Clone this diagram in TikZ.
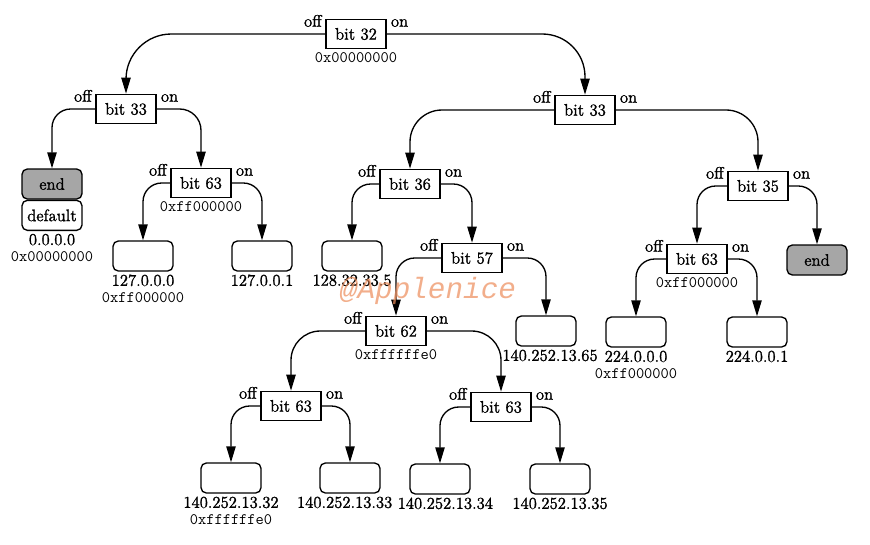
\documentclass[tikz,border=0pt]{standalone}
\usepackage{fontspec}
\setmainfont{Latin Modern Roman}[FakeBold=1.4]
\newfontfamily\wmfont{Liberation Mono}
\usetikzlibrary{arrows.meta}
\begin{document}
\begin{tikzpicture}[x=0.75pt,y=-0.75pt,
    bitbox/.style={draw, line width=1pt, minimum width=45pt, minimum height=22pt,
        inner sep=0pt, font=\fontsize{12.5}{14}\selectfont,
        label={[anchor=base east, inner sep=0pt, xshift=-2.5pt, yshift=-6pt,
            font=\fontsize{12.5}{14}\selectfont]north west:off},
        label={[anchor=base west, inner sep=0pt, xshift=3pt, yshift=-6pt,
            font=\fontsize{12.5}{14}\selectfont]north east:on}},
    leaf/.style={draw, line width=1pt, rounded corners=4pt, minimum width=45pt,
        minimum height=22.5pt, inner sep=0pt, font=\fontsize{12.5}{14}\selectfont},
    endleaf/.style={leaf, fill=black!35},
    addr/.style={anchor=north, inner sep=1pt, yshift=-1pt, font=\fontsize{12.5}{14}\selectfont},
    mask/.style={anchor=north, inner sep=1pt, font=\ttfamily\fontsize{12}{14}\selectfont},
    edge/.style={-{Triangle[length=12pt,width=7pt]}, line width=1pt, rounded corners=14pt}]
    \useasboundingbox (0,0) rectangle (870,544);
    % Wurzel
    \node[bitbox] (b32) at (356,34) {bit 32};
    \node[mask, yshift=-1.5pt] (m32) at (b32.south) {0x00000000};
    % linker Teilbaum
    \node[bitbox] (b33l) at (126,109) {bit 33};
    \node[endleaf] (endl) at (52,184) {end};
    \node[leaf, anchor=north] (defl) at (endl.south) {default};
    \node[addr] (a0) at (defl.south) {0.0.0.0};
    \node[mask] (m0) at ([yshift=-2.5pt]a0.south) {0x00000000};
    \node[bitbox] (b63a) at (201,183) {bit 63};
    \node[mask, yshift=-1.5pt] (m63a) at (b63a.south) {0xff000000};
    \node[leaf] (l1270) at (143,256) {};
    \node[addr] (a1270) at (l1270.south) {127.0.0.0};
    \node[mask] (m1270) at ([yshift=-2pt]a1270.south) {0xff000000};
    \node[leaf] (l1271) at (262,256) {};
    \node[addr] (a1271) at (l1271.south) {127.0.0.1};
    % rechter Teilbaum
    \node[bitbox] (b33r) at (585,110) {bit 33};
    \node[bitbox] (b36) at (410,184) {bit 36};
    \node[leaf] (l128) at (352,256) {};
    \node[addr] (a128) at (l128.south) {128.32.33.5};
    \node[bitbox] (b57) at (472,258) {bit 57};
    \node[leaf] (l65) at (546,331) {};
    \node[addr, xshift=3pt] (a65) at (l65.south) {140.252.13.65};
    \node[bitbox] (b62) at (396,331) {bit 62};
    \node[mask, yshift=-1.5pt] (m62) at (b62.south) {0xffffffe0};
        % untere Ebene
    \node[bitbox] (b63b) at (291,406) {bit 63};
    \node[bitbox] (b63c) at (501,407) {bit 63};
    \node[leaf] (l32) at (231,478) {};
    \node[addr] (a32) at (l32.south) {140.252.13.32};
    \node[mask] (m32b) at ([yshift=-2.5pt]a32.south) {0xffffffe0};
    \node[leaf] (l33) at (350,478) {};
    \node[addr, xshift=-4pt] (a33) at (l33.south) {140.252.13.33};
    \node[leaf] (l34) at (440,479) {};
    \node[addr, xshift=4pt] (a34) at (l34.south) {140.252.13.34};
    \node[leaf] (l35) at (560,479) {};
    \node[addr] (a35) at (l35.south) {140.252.13.35};
        % bit 35
    \node[bitbox] (b35) at (758,186) {bit 35};
    \node[endleaf] (endr) at (817,260) {end};
    \node[bitbox] (b63d) at (697,259) {bit 63};
    \node[mask, yshift=-1.5pt] (m63d) at (b63d.south) {0xff000000};
    \node[leaf] (l2240) at (636,332) {};
    \node[addr] (a2240) at (l2240.south) {224.0.0.0};
    \node[mask] (m2240) at ([yshift=-2.5pt]a2240.south) {0xff000000};
    \node[leaf] (l2241) at (757,332) {};
    \node[addr] (a2241) at (l2241.south) {224.0.0.1};
    % Verbindungen
    \draw[edge, rounded corners=34pt] (b32.west) -| (b33l.north);
    \draw[edge, rounded corners=32pt] (b32.east) -| (b33r.north);
    \draw[edge] (b33l.west) -| (endl.north);
    \draw[edge, rounded corners=16pt] (b33l.east) -| (b63a.north);
    \draw[edge] (b63a.west) -| (l1270.north);
    \draw[edge] (b63a.east) -| (l1271.north);
    \draw[edge, rounded corners=24pt] (b33r.west) -| (b36.north);
    \draw[edge, rounded corners=24pt] (b33r.east) -| (b35.north);
    \draw[edge] (b36.west) -| (l128.north);
    \draw[edge] (b36.east) -| (b57.north);
    \draw[edge] (b57.west) -| (b62.north);
    \draw[edge] (b57.east) -| (l65.north);
    \draw[edge, rounded corners=22pt] (b62.west) -| (b63b.north);
    \draw[edge, rounded corners=22pt] (b62.east) -| (b63c.north);
    \draw[edge] (b63b.west) -| (l32.north);
    \draw[edge] (b63b.east) -| (l33.north);
    \draw[edge] (b63c.west) -| (l34.north);
    \draw[edge] (b63c.east) -| (l35.north);
    \draw[edge] (b35.west) -| (b63d.north);
    \draw[edge] (b35.east) -| (endr.north);
    \draw[edge] (b63d.west) -| (l2240.north);
    \draw[edge] (b63d.east) -| (l2241.north);
    % Wasserzeichen
    \node[text={rgb,255:red,236;green,140;blue,90}, text opacity=0.7,
        font=\wmfont\itshape\fontsize{22}{24}\selectfont] (wmark) at (428,291) {@Applenice};
\end{tikzpicture}
\end{document}
